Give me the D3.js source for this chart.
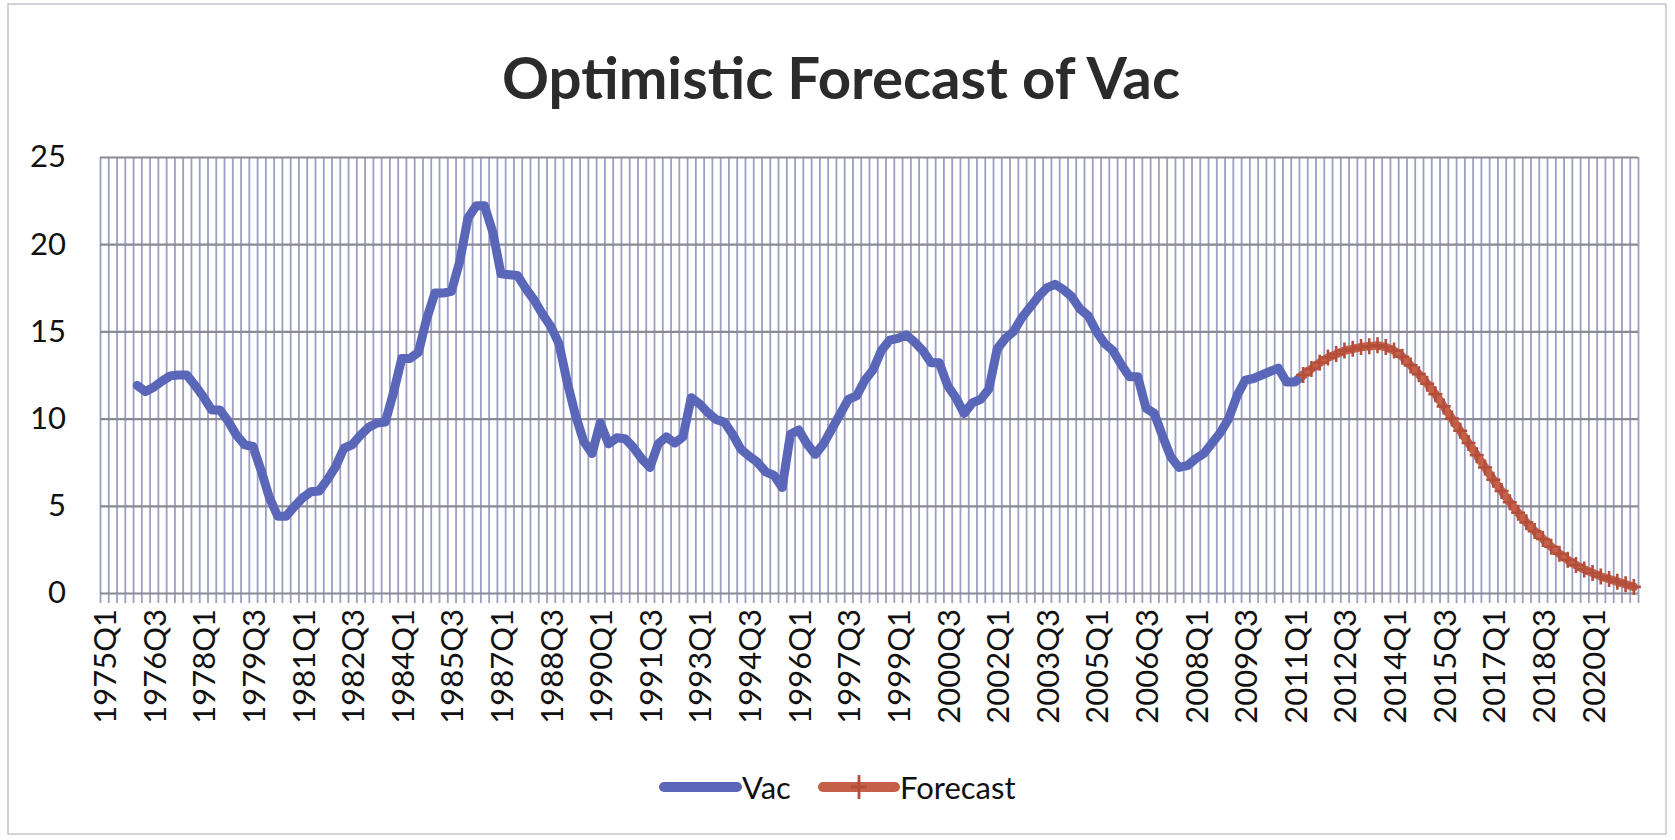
<!DOCTYPE html>
<html><head><meta charset="utf-8">
<script src="https://cdn.jsdelivr.net/npm/d3@7"></script>
<style>body{margin:0;background:#fff;} svg{display:block;}</style>
</head><body>
<svg id="chart" width="1675" height="840"></svg>
<script>
// ---------- data ----------
const title = "Optimistic Forecast of Vac";
const firstYear = 1975, lastCategory = "2021Q2";
const categories = [];
for (let y = firstYear; y <= 2021; y++) for (const q of [1, 2, 3, 4]) categories.push(y + "Q" + q);
categories.length = categories.indexOf(lastCategory) + 1;

const tickLabels = ["1975Q1","1976Q3","1978Q1","1979Q3","1981Q1","1982Q3","1984Q1","1985Q3",
  "1987Q1","1988Q3","1990Q1","1991Q3","1993Q1","1994Q3","1996Q1","1997Q3","1999Q1","2000Q3",
  "2002Q1","2003Q3","2005Q1","2006Q3","2008Q1","2009Q3","2011Q1","2012Q3","2014Q1","2015Q3",
  "2017Q1","2018Q3","2020Q1"];
const yTicks = [0, 5, 10, 15, 20, 25];

const vacStart = "1976Q1";
const vacValues = [
  11.9, 11.55, 11.8, 12.15, 12.45, 12.5, 12.5, 11.9, 11.25, 10.5,
  10.5, 9.85, 9.05, 8.5, 8.4, 7.0, 5.45, 4.4, 4.4, 4.95,
  5.45, 5.8, 5.85, 6.5, 7.25, 8.3, 8.5, 9.05, 9.5, 9.75,
  9.8, 11.5, 13.45, 13.45, 13.8, 15.7, 17.2, 17.2, 17.3, 19.0,
  21.5, 22.2, 22.2, 20.7, 18.3, 18.25, 18.2, 17.45, 16.8, 16.0,
  15.3, 14.3, 12.1, 10.2, 8.7, 8.0, 9.75, 8.55, 8.9, 8.85,
  8.35, 7.7, 7.2, 8.55, 8.95, 8.6, 8.95, 11.2, 10.85, 10.35,
  9.95, 9.8, 9.1, 8.25, 7.85, 7.5, 6.95, 6.75, 6.05, 9.1,
  9.35, 8.55, 7.95, 8.55, 9.4, 10.25, 11.1, 11.3, 12.2, 12.8,
  13.9, 14.5, 14.6, 14.8, 14.4, 13.9, 13.2, 13.2, 11.9, 11.2,
  10.3, 10.9, 11.1, 11.7, 14.0, 14.6, 15.0, 15.8, 16.4, 17.0,
  17.5, 17.7, 17.4, 17.0, 16.3, 15.9, 15.0, 14.3, 13.9, 13.1,
  12.4, 12.4, 10.6, 10.3, 9.0, 7.8, 7.2, 7.3, 7.7, 8.0,
  8.6, 9.2, 10.0, 11.3, 12.2, 12.3, 12.5, 12.7, 12.9, 12.1,
  12.1, 12.5
];
const forecastStart = "2011Q2";
const forecastValues = [
  12.5, 12.85, 13.2, 13.5, 13.7, 13.9, 14.0, 14.1, 14.15, 14.2,
  14.1, 13.9, 13.55, 13.05, 12.55, 12.0, 11.4, 10.7, 10.0, 9.3,
  8.6, 7.9, 7.2, 6.5, 5.85, 5.2, 4.6, 4.05, 3.55, 3.1,
  2.65, 2.25, 1.9, 1.6, 1.35, 1.15, 0.95, 0.8, 0.65, 0.5,
  0.35
];
const seriesNames = ["Vac", "Forecast"];
const seriesColors = ["#5a66b8", "#c4604a"];

// ---------- layout ----------
const W = 1675, H = 840;
const plot = {left: 100, right: 1638, top: 157, bottom: 593};
const font = "Lato, 'Open Sans', sans-serif";

const svg = d3.select("#chart");
svg.append("rect").attr("width", W).attr("height", H).attr("fill", "#fff");
svg.append("rect").attr("x", 8).attr("y", 4).attr("width", 1658).attr("height", 830)
  .attr("fill", "none").attr("stroke", "#c4c4cc").attr("stroke-width", 1.5);

const x = d3.scaleBand().domain(categories).range([plot.left, plot.right]).padding(0);
const xc = c => x(c) + x.bandwidth() / 2;
const xb = d3.scaleLinear().domain([0, categories.length]).range([plot.left, plot.right]);
const y = d3.scaleLinear().domain([0, 25]).range([plot.bottom, plot.top]);

// vertical gridlines + tick marks at category boundaries
const gx = svg.append("g").attr("transform", `translate(0,${plot.bottom + 10})`)
  .call(d3.axisBottom(xb).tickValues(d3.range(categories.length + 1))
    .tickSize(-(plot.bottom + 10 - plot.top)).tickFormat(""));
gx.select(".domain").remove();
gx.selectAll(".tick line").attr("stroke", "#9c9ec2").attr("stroke-width", 1.8);

// horizontal gridlines + y labels
const gy = svg.append("g").attr("transform", `translate(${plot.left},0)`)
  .call(d3.axisLeft(y).tickValues(yTicks).tickSize(-(plot.right - plot.left)).tickPadding(34));
gy.select(".domain").remove();
gy.selectAll(".tick line").attr("stroke", "#8a8a96").attr("stroke-width", 2.2);
gy.selectAll(".tick text").attr("font-family", font).attr("font-size", 31).attr("fill", "#111");

// x labels (rotated)
svg.append("g").selectAll("text").data(tickLabels).join("text")
  .attr("transform", d => `translate(${xc(d)},${plot.bottom + 16}) rotate(-90)`)
  .attr("text-anchor", "end").attr("dominant-baseline", "central")
  .attr("font-family", font).attr("font-size", 31).attr("fill", "#111")
  .text(d => d);

// series
const i0v = categories.indexOf(vacStart);
const vacData = vacValues.map((v, k) => ({c: categories[i0v + k], v}));
const i0f = categories.indexOf(forecastStart);
const fcData = forecastValues.map((v, k) => ({c: categories[i0f + k], v}));

const line = d3.line().x(d => xc(d.c)).y(d => y(d.v));
svg.append("path").datum(vacData).attr("d", line).attr("fill", "none")
  .attr("stroke", seriesColors[0]).attr("stroke-width", 9)
  .attr("stroke-linejoin", "round").attr("stroke-linecap", "round");
svg.append("path").datum(fcData).attr("d", line).attr("fill", "none")
  .attr("stroke", seriesColors[1]).attr("stroke-width", 8.5)
  .attr("stroke-linejoin", "round").attr("stroke-linecap", "round");
const plus = "M-7,0H7M0,-8V8";
svg.append("g").selectAll("path").data(fcData).join("path")
  .attr("transform", d => `translate(${xc(d.c)},${y(d.v)})`)
  .attr("d", plus).attr("stroke", "#b34e3a").attr("stroke-width", 2.6).attr("fill", "none");

// legend
const legY = 787;
const leg = [{name: seriesNames[0], x0: 664, x1: 737, color: seriesColors[0], marker: false},
             {name: seriesNames[1], x0: 823, x1: 895, color: seriesColors[1], marker: true}];
const lg = svg.append("g").selectAll("g").data(leg).join("g");
lg.append("line").attr("x1", d => d.x0).attr("x2", d => d.x1).attr("y1", legY).attr("y2", legY)
  .attr("stroke", d => d.color).attr("stroke-width", 10).attr("stroke-linecap", "round");
lg.filter(d => d.marker).append("path")
  .attr("transform", d => `translate(${(d.x0 + d.x1) / 2},${legY})`)
  .attr("d", "M-8,0H8M0,-12V12").attr("stroke", "#b34e3a").attr("stroke-width", 2.8);
lg.append("text").attr("x", d => d.x1 + 5).attr("y", legY).attr("dominant-baseline", "central")
  .attr("font-family", font).attr("font-size", 31).attr("fill", "#111").text(d => d.name);

// title
const t = svg.append("text").attr("x", 841).attr("y", 99).attr("text-anchor", "middle")
  .attr("font-family", font).attr("font-weight", "bold").attr("font-size", 60)
  .attr("fill", "#2b2b2b").text(title);
const tw = t.node().getComputedTextLength();
t.attr("font-size", 60 * 678 / tw);
</script>
</body></html>
